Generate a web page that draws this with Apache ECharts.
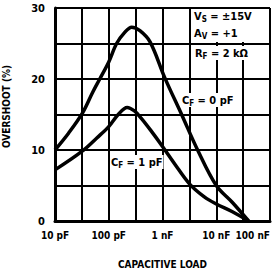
<!DOCTYPE html>
<html>
<head>
<meta charset="utf-8">
<script src="https://cdn.jsdelivr.net/npm/echarts@6/dist/echarts.min.js"></script>
<style>
  html, body { margin: 0; padding: 0; background: #fff; }
  #chart { width: 277px; height: 270px; }
</style>
</head>
<body>
<div id="chart"></div>
<script>
(function() {
  var font = "'Liberation Sans Narrow', 'DejaVu Sans Condensed', 'Liberation Sans', sans-serif";
  var ink = '#000';

  // capacitive load in pF, overshoot in %
  var loadCf0 = [10, 18, 33, 50, 68, 100, 140, 200, 267, 380, 590, 1100, 2300, 4500, 10000, 20000, 40000];
  var overshootCf0 = [10.0, 12.4, 15.3, 18.1, 20.0, 22.4, 25.0, 26.6, 27.3, 26.8, 25.2, 20.2, 14.9, 10.0, 5.0, 2.6, 0];

  var loadCf1 = [10, 31.6, 60, 100, 150, 220, 300, 400, 600, 1000, 1700, 3200, 6000, 10000, 20000, 40000];
  var overshootCf1 = [7.2, 9.8, 11.7, 13.3, 15.0, 16.0, 15.5, 14.5, 12.8, 10.5, 8.0, 5.2, 3.4, 2.4, 1.3, 0];

  // decades of the x axis (log10 of pF) and their labels
  var xTickLabels = ['10 pF', '100 pF', '1 nF', '10 nF', '100 nF'];
  var yTickLabels = ['0', '10', '20', '30'];

  // the x axis is a log10(pF) value axis so that the grid can have half-decade lines
  function pairs(xs, ys) {
    return xs.map(function(x, i) { return [Math.log10(x), ys[i]]; });
  }

  var labelStyle = { fontFamily: font, fontWeight: 'bold', fontSize: 11, color: ink };
  var rich = {
    b: { fontFamily: font, fontWeight: 'bold', fontSize: 11, color: ink, lineHeight: 14 },
    s: { fontFamily: font, fontWeight: 'bold', fontSize: 8, color: ink, lineHeight: 14, padding: [6, 0, 0, 0] }
  };

  var chart = echarts.init(document.getElementById('chart'), null, { renderer: 'svg' });
  chart.setOption({
    animation: false,
    backgroundColor: '#fff',
    grid: { left: 55, right: 7, top: 8, bottom: 49, outerBoundsMode: 'none' },
    xAxis: {
      type: 'value',
      min: 1,
      max: 5,
      interval: 0.5,
      name: 'CAPACITIVE LOAD',
      nameLocation: 'middle',
      nameGap: 38,
      nameTextStyle: { fontFamily: font, fontWeight: 'bold', fontSize: 10, color: ink },
      axisLine: { show: true, lineStyle: { color: ink, width: 3 } },
      axisTick: { show: false },
      splitLine: { show: true, lineStyle: { color: ink, width: 2 } },
      axisLabel: Object.assign({}, labelStyle, {
        fontSize: 10,
        margin: 9,
        showMaxLabel: true,
        alignMaxLabel: 'right',
        formatter: function(v) {
          var k = Math.round(v * 2);
          if (k % 2) return '';
          return xTickLabels[k / 2 - 1] || '';
        }
      })
    },
    yAxis: {
      type: 'value',
      min: 0,
      max: 30,
      interval: 5,
      name: 'OVERSHOOT (%)',
      nameLocation: 'middle',
      nameGap: 44,
      nameRotate: 90,
      nameTextStyle: { fontFamily: font, fontWeight: 'bold', fontSize: 10, color: ink, padding: [0, 0, 0, 16] },
      axisLine: { show: true, lineStyle: { color: ink, width: 3 } },
      axisTick: { show: false },
      splitLine: { show: true, lineStyle: { color: ink, width: 2 } },
      axisLabel: Object.assign({
        margin: 10,
        formatter: function(v) {
          return v % 10 === 0 ? yTickLabels[v / 10] : '';
        }
      }, labelStyle)
    },
    series: [
      {
        name: 'CF = 0 pF',
        type: 'line',
        smooth: 0.35,
        showSymbol: false,
        lineStyle: { color: ink, width: 3.5 },
        data: pairs(loadCf0, overshootCf0)
      },
      {
        name: 'CF = 1 pF',
        type: 'line',
        smooth: 0.35,
        showSymbol: false,
        lineStyle: { color: ink, width: 3.5 },
        data: pairs(loadCf1, overshootCf1)
      }
    ],
    graphic: [
      { type: 'rect', z: 50, shape: { x: 192, y: 9, width: 76, height: 33 }, style: { fill: '#fff' } },
      { type: 'text', z: 51, left: 194, top: 9, style: { text: '{b|V}{s|S}{b| = ±15V}', rich: rich } },
      { type: 'text', z: 51, left: 194, top: 26, style: { text: '{b|A}{s|V}{b| = +1}', rich: rich } },
      { type: 'text', z: 51, left: 193, top: 46, style: { text: '{b|R}{s|F}{b| = 2 kΩ}', rich: rich, backgroundColor: '#fff', padding: [0, 2] } },
      { type: 'text', z: 51, left: 181, top: 93, style: { text: '{b|C}{s|F}{b| = 0 pF}', rich: rich, backgroundColor: '#fff', padding: [0, 1] } },
      { type: 'text', z: 51, left: 110, top: 155, style: { text: '{b|C}{s|F}{b| = 1 pF}', rich: rich, backgroundColor: '#fff', padding: [0, 1] } }
    ]
  });
})();
</script>
</body>
</html>
